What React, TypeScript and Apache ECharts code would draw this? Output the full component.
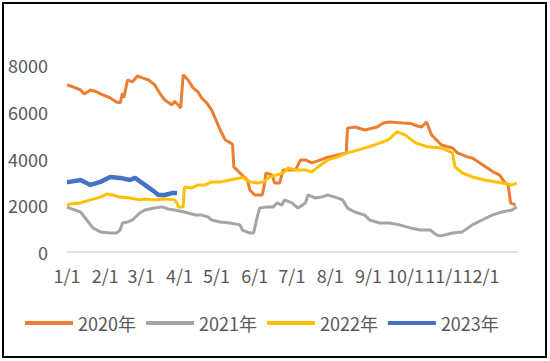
import React, { useEffect, useRef } from "react";
import * as echarts from "echarts";

// x = day of year (0 = 1/1), y = price
const s2020: [number, number][] = [
  [0, 7150], [5, 7060], [11, 6930], [14, 6760], [19, 6930], [24, 6850], [29, 6720], [35, 6590],
  [40, 6420], [43, 6380], [45, 6800], [46, 6600], [49, 7360], [53, 7280], [57, 7530], [61, 7450],
  [66, 7360], [71, 7150], [75, 6800], [79, 6510], [85, 6290], [87, 6450], [90, 6290], [92, 6160],
  [94, 7580], [98, 7360], [102, 7020], [106, 6850], [109, 6590], [113, 6380], [117, 6080],
  [124, 5220], [128, 4800], [132, 4670], [134, 4600], [135, 3640], [140, 3380], [146, 3080],
  [148, 2650], [152, 2440], [158, 2440], [160, 2950], [161, 3380], [166, 3300], [168, 2950],
  [172, 2950], [175, 3510], [185, 3510], [189, 3940], [193, 3940], [198, 3810], [203, 3900],
  [209, 4020], [219, 4150], [226, 4240], [227, 5300], [233, 5350], [241, 5220], [251, 5350],
  [256, 5520], [261, 5560], [272, 5520], [278, 5500], [283, 5400], [287, 5350], [291, 5560],
  [295, 5010], [303, 4580], [312, 4450], [316, 4240], [324, 4070], [328, 4020], [333, 3850],
  [340, 3600], [345, 3420], [350, 3300], [354, 3000], [357, 2870], [359, 2100], [363, 2010],
];

const s2021: [number, number][] = [
  [0, 1930], [2, 1880], [11, 1710], [16, 1370], [21, 1030], [27, 860], [35, 810], [40, 810],
  [43, 940], [45, 1240], [49, 1280], [53, 1370], [59, 1670], [63, 1800], [71, 1880], [77, 1930],
  [82, 1840], [87, 1800], [95, 1710], [104, 1580], [109, 1580], [114, 1500], [117, 1370],
  [124, 1280], [132, 1240], [140, 1160], [142, 940], [148, 810], [151, 810], [154, 1500],
  [156, 1880], [162, 1930], [167, 1930], [170, 2100], [174, 2010], [176, 2230], [182, 2100],
  [187, 1880], [193, 2100], [195, 2440], [201, 2310], [206, 2350], [211, 2440], [217, 2350],
  [223, 2230], [227, 1880], [233, 1710], [241, 1580], [245, 1370], [253, 1240], [261, 1240],
  [269, 1160], [278, 1030], [286, 940], [294, 940], [299, 730], [303, 690], [312, 810],
  [320, 860], [328, 1160], [336, 1370], [344, 1580], [352, 1710], [360, 1800], [364, 1930],
];

const s2022: [number, number][] = [
  [0, 2010], [2, 2050], [11, 2100], [19, 2230], [27, 2350], [32, 2480], [37, 2440], [43, 2350],
  [51, 2310], [59, 2230], [63, 2270], [71, 2230], [79, 2270], [87, 2230], [89, 2100], [90, 1930],
  [94, 1930], [95, 2780], [101, 2740], [106, 2870], [112, 2870], [117, 3000], [124, 3000],
  [132, 3080], [140, 3170], [142, 3200], [148, 3000], [154, 2950], [159, 3000], [164, 3210],
  [170, 3300], [175, 3380], [179, 3600], [185, 3510], [193, 3510], [198, 3420], [203, 3640],
  [211, 3940], [219, 4070], [227, 4240], [236, 4370], [241, 4450], [249, 4580], [260, 4800],
  [267, 5140], [274, 5000], [282, 4670], [292, 4500], [303, 4450], [312, 4240], [314, 3640],
  [320, 3380], [328, 3210], [338, 3080], [352, 2950], [360, 2870], [364, 2950],
];

const s2023: [number, number][] = [
  [0, 3000], [2, 3000], [11, 3080], [19, 2870], [27, 3000], [35, 3210], [43, 3170], [51, 3080],
  [55, 3170], [61, 2950], [69, 2650], [74, 2440], [79, 2440], [85, 2520], [89, 2520],
];

const seriesNames = ["2020年", "2021年", "2022年", "2023年"];
const seriesColors = ["#ED7D31", "#A5A5A5", "#FFC000", "#4472C4"];
const monthStarts = [0, 31, 60, 91, 121, 152, 182, 213, 244, 274, 305, 335];
const monthLabels = ["1/1", "2/1", "3/1", "4/1", "5/1", "6/1", "7/1", "8/1", "9/1", "10/1", "11/1", "12/1"];

export default function App() {
  const ref = useRef<HTMLDivElement>(null);
  useEffect(() => {
    if (!ref.current) return;
    const chart = echarts.init(ref.current, undefined, { renderer: "svg" });
    const font = "'Noto Sans CJK SC', 'Noto Sans', sans-serif";
    const labelMap: Record<number, string> = {};
    monthStarts.forEach((d, i) => (labelMap[d] = monthLabels[i]));
    const data = [s2020, s2021, s2022, s2023];
    chart.setOption({
      animation: false,
      backgroundColor: "#fff",
      textStyle: { fontFamily: font },
      grid: { left: 67, right: 32, top: 65, bottom: 109, containLabel: false },
      legend: {
        left: 25,
        top: 314,
        padding: 0,
        itemWidth: 48,
        itemHeight: 4,
        itemGap: 10,
        icon: "rect",
        textStyle: { fontSize: 18, color: "#595959", fontFamily: font },
        data: seriesNames,
      },
      xAxis: {
        type: "value",
        min: 0,
        max: 365,
        splitLine: { show: false },
        axisLine: { show: true, lineStyle: { color: "#D9D9D9", width: 1.5 } },
        axisTick: { show: false },
        axisLabel: {
          customValues: monthStarts,
          formatter: (v: number) => labelMap[v] ?? "",
          color: "#595959",
          fontSize: 18,
          margin: 14,
          fontFamily: font,
        },
      },
      yAxis: {
        type: "value",
        min: 0,
        max: 8000,
        interval: 2000,
        splitLine: { show: false },
        axisLine: { show: false },
        axisTick: { show: false },
        axisLabel: {
          color: "#595959",
          fontSize: 18,
          margin: 19,
          fontFamily: font,
          formatter: (v: number) => String(v),
        },
      },
      series: data.map((d, i) => ({
        name: seriesNames[i],
        type: "line",
        data: d,
        showSymbol: false,
        symbol: "none",
        color: seriesColors[i],
        lineStyle: { width: i === 3 ? 4.5 : 3, color: seriesColors[i] },
      })),
      graphic: [
        {
          type: "rect",
          shape: { x: 3, y: 3, width: 543, height: 354 },
          style: { fill: "none", stroke: "#000", lineWidth: 2 },
          silent: true,
        },
      ],
    });
    return () => chart.dispose();
  }, []);
  return (
    <div
      ref={ref}
      style={{ position: "fixed", left: 0, top: 0, width: 550, height: 361 }}
    />
  );
}
